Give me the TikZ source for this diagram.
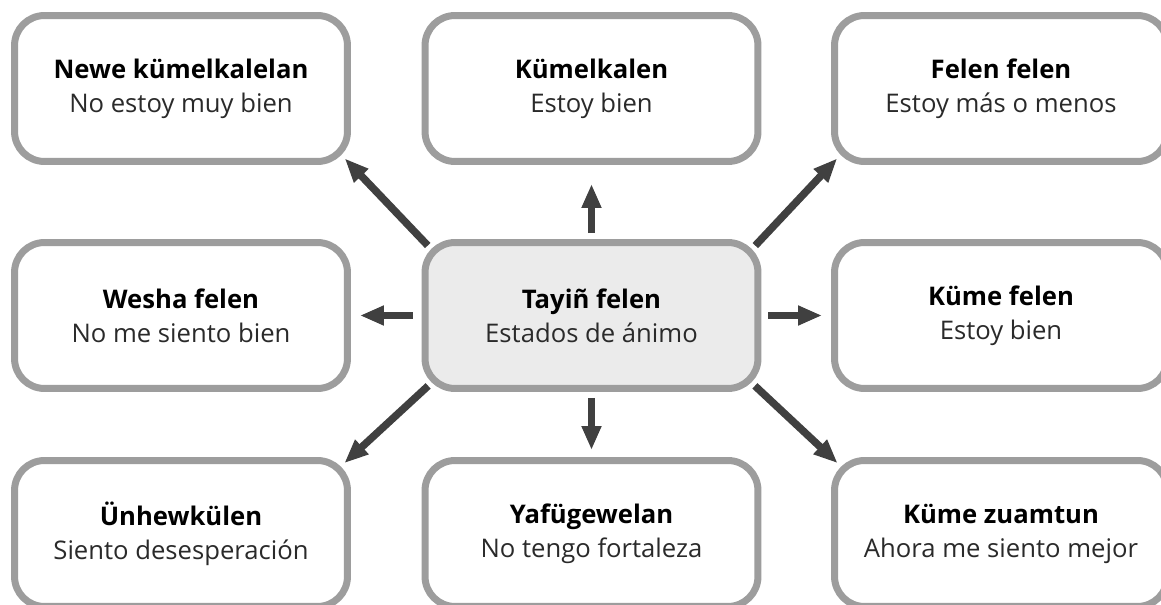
\documentclass[tikz,border=0pt]{standalone}
\usepackage{fontspec}
\setmainfont{Open Sans}
\usetikzlibrary{arrows.meta}
\definecolor{boxgray}{HTML}{9D9D9D}
\definecolor{hubfill}{HTML}{EBEBEB}
\definecolor{arrowgray}{HTML}{404040}
\definecolor{lighttext}{HTML}{2A2A2A}

\begin{document}
\begin{tikzpicture}[
        x=0.02cm, y=-0.02cm,
        mood/.style={rectangle, rounded corners=0.6cm, draw=boxgray, line width=0.14cm, fill=white, text=lighttext, minimum width=6.66cm, minimum height=2.92cm, align=center, font=\fontsize{14.6}{19.4}\selectfont},
        hub/.style={mood, fill=hubfill},
        arrow/.style={-{Triangle[length=0.48cm, width=0.37cm]}, line width=0.15cm, draw=arrowgray},
        diag/.style={arrow, shorten <=-0.18cm, shorten >=-0.18cm}
    ]
    \useasboundingbox (0,0) rectangle (1161,605);

    \node[hub] (tayin) at (591.5,315.5) {\textbf{\color{black}Tayiñ felen}\\Estados de ánimo};

    \node[mood] (newe) at (181,88.5) {\textbf{\color{black}Newe kümelkalelan}\\No estoy muy bien};
    \node[mood] (kumelkalen) at (591.5,88.5) {\textbf{\color{black}Kümelkalen}\\Estoy bien};
    \node[mood] (felen) at (1001,88.5) {\textbf{\color{black}Felen felen}\\Estoy más o menos};
    \node[mood] (wesha) at (181,315.5) {\textbf{\color{black}Wesha felen}\\No me siento bien};
    \node[mood] (kume) at (1001,315.5) {\textbf{\color{black}Küme felen}\\Estoy bien};
    \node[mood] (unhew) at (181,533.5) {\textbf{\color{black}Ünhewkülen}\\Siento desesperación};
    \node[mood] (yafu) at (591.5,533.5) {\textbf{\color{black}Yafügewelan}\\No tengo fortaleza};
    \node[mood] (zuamtun) at (1001,533.5) {\textbf{\color{black}Küme zuamtun}\\Ahora me siento mejor};

    \draw[arrow, shorten <=0.12cm, shorten >=0.38cm] (tayin.north) -- (kumelkalen.south);
    \draw[arrow, shorten <=0.12cm, shorten >=0.14cm] (tayin.south) -- (yafu.north);
    \draw[arrow, shorten <=0.18cm, shorten >=0.18cm] (tayin.west) -- (wesha.east);
    \draw[arrow, shorten <=0.14cm, shorten >=0.18cm] (tayin.east) -- (kume.west);
    \draw[diag] (tayin.north west) -- (newe.south east);
    \draw[diag] (tayin.north east) -- (felen.south west);
    \draw[diag] (tayin.south west) -- (unhew.north east);
    \draw[diag] (tayin.south east) -- (zuamtun.north west);

\end{tikzpicture}
\end{document}
